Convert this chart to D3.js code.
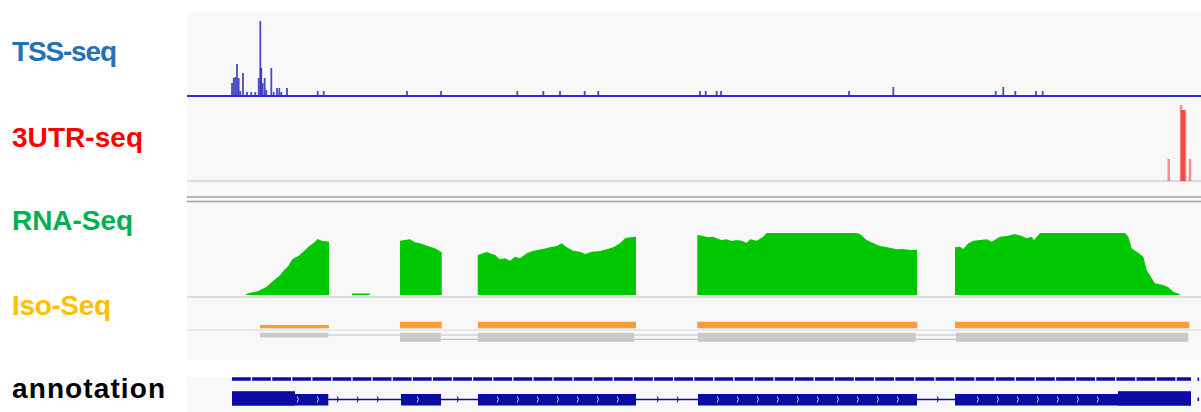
<!DOCTYPE html>
<html>
<head>
<meta charset="utf-8">
<script src="https://cdn.jsdelivr.net/npm/d3@7"></script>
<style>
  html, body { margin: 0; padding: 0; background: #ffffff; }
  svg { display: block; }
</style>
</head>
<body>
<svg id="chart" width="1201" height="412"></svg>
<script>
// ---------------- DATA ----------------
const locus = [1870, 12010];               // genomic window (bp)
const trackLabels = ["TSS-seq", "3UTR-seq", "RNA-Seq", "Iso-Seq", "annotation"];

// TSS-seq signal
const tssPos = [2320,2337,2353,2370,2387,2403,2430,2470,2513,2553,2587,2603,2613,2627,2647,2663,2713,2737,2770,2793,2813,2870,3177,3237,4070,4410,5173,5433,5600,5847,5983,7000,7057,7167,7210,8490,8933,9957,10033,10153,10360,10427];
const tssVal = [13,18,19,32,18,5,23,4,4,4,18,75,28,13,18,6,28,4,8,8,4,8,5,5,5,5,5,5,5,5,5,5,5,5,5,5,9,5,9,5,5,5];

// 3UTR-seq signal
const utrPos = [11687,11810,11820,11830,11840,11850,11900];
const utrVal = [22,76,71,71,71,71,22];

// RNA-Seq coverage, one array per covered segment: [position, depth]
const rnaSeg1 = [[2450,0],[2483,1.7],[2583,4],[2667,8.3],[2733,14.3],[2793,19],[2833,24],[2883,29],[2923,36],[2983,39],[3033,43.3],[3083,48.3],[3133,51.7],[3177,56],[3217,54.3],[3290,53.3]];
const rnaSeg2 = [[3520,1.5],[3700,1.5]];
const rnaSeg3 = [[4000,54.3],[4050,55],[4100,55.7],[4150,52.7],[4200,51.7],[4250,50],[4300,48.3],[4350,46.7],[4417,42.7]];
const rnaSeg4 = [[4777,40],[4867,43],[4950,40],[5000,35.7],[5050,36.7],[5100,34.3],[5150,38.3],[5200,36.7],[5267,41.7],[5333,44.3],[5417,45.7],[5500,47.7],[5567,49],[5617,51.7],[5667,47.7],[5733,44.3],[5800,43.3],[5850,41],[5917,43.3],[6000,44],[6067,45.7],[6133,47.7],[6200,51.7],[6250,56.7],[6300,57.7],[6360,58.3]];
const rnaSeg5 = [[6973,60],[7033,59],[7083,57.7],[7133,58.3],[7183,56],[7217,55],[7267,55.7],[7317,54],[7367,55],[7417,54.3],[7467,52.3],[7500,55.7],[7567,54.3],[7633,58.3],[7667,62],[8567,62],[8600,61],[8667,55],[8730,52],[8800,49],[8860,48],[8967,45.7],[9030,46],[9100,45],[9170,45.3]];
const rnaSeg6 = [[9550,47.7],[9600,48.3],[9633,46],[9683,51.7],[9733,54.3],[9800,55],[9867,55.7],[9917,53.3],[10000,58.3],[10067,59],[10150,61],[10217,59],[10267,56.7],[10317,58.3],[10340,55],[10400,62],[11250,62],[11283,58.3],[11317,46.7],[11367,43.3],[11433,38.3],[11467,25],[11517,16.7],[11550,11.7],[11633,10],[11683,7.7],[11733,3.3],[11800,0.7]];

// Iso-Seq reads / collapsed isoforms: [start, end]
const isoThin  = [[2600,3290]];
const isoThick = [[4000,4417],[4780,6360],[6973,9173],[9550,11893]];
const isoRowA  = [[2600,3283],[4000,4407],[4777,6343],[6977,9157],[9560,11883]];
const isoRowB  = [[4000,4407],[4777,6343],[6977,9157],[9560,11883]];

// Gene annotation
const geneSpan   = [2320, 11910];
const annotExons = [[2320,3283],[4010,4410],[4780,6360],[6980,9170],[9550,11910]];
const annotUtr   = [[2320,2950],[11180,11910]];

// ---------------- DRAW ----------------
const svg = d3.select("#chart");
const x = d3.scaleLinear().domain(locus).range([187, 1201]);
const yTss = d3.scaleLinear().domain([0, 76]).range([96, 20]);
const yUtr = d3.scaleLinear().domain([0, 76]).range([181, 105]);
const yRna = d3.scaleLinear().domain([0, 62]).range([295, 233]);

// backgrounds
svg.append("rect").attr("x", 187).attr("y", 13).attr("width", 1014).attr("height", 347).attr("fill", "#f8f8f8");
svg.append("rect").attr("x", 187).attr("y", 377).attr("width", 1014).attr("height", 35).attr("fill", "#f8f8f8");

// labels
const labelY = [61, 147, 230, 315, 398];
const labelColor = ["#2471b8", "#ff0000", "#00b050", "#ffc000", "#000000"];
const labelLen = [105, 131, 121, 99, 153];
svg.selectAll("text.lbl").data(trackLabels).join("text")
  .attr("class", "lbl")
  .attr("x", 12)
  .attr("y", (d, i) => labelY[i])
  .attr("fill", (d, i) => labelColor[i])
  .attr("textLength", (d, i) => labelLen[i])
  .style("font-family", "'Liberation Sans', Arial, sans-serif")
  .style("font-weight", "bold")
  .style("font-size", "28px")
  .text(d => d);

// separator lines
function hline(y, color, w) {
  svg.append("line").attr("x1", 187).attr("x2", 1201).attr("y1", y).attr("y2", y)
    .attr("stroke", color).attr("stroke-width", w);
}
hline(181, "#d2d2d2", 1.5);
hline(197, "#a2a2a2", 1.6);
hline(201.5, "#a2a2a2", 1.6);
hline(297, "#d2d2d2", 1.6);
hline(330, "#d6d6d6", 1.2);

// TSS-seq bars
svg.append("g").selectAll("rect").data(tssPos).join("rect")
  .attr("x", d => x(d) - 0.9)
  .attr("width", 1.8)
  .attr("y", (d, i) => yTss(tssVal[i]))
  .attr("height", (d, i) => yTss(0) - yTss(tssVal[i]))
  .attr("fill", "#1f1fb4")
  .attr("fill-opacity", 0.8);
hline(96, "#2c2cd2", 2);

// 3UTR-seq bars
svg.append("g").selectAll("rect").data(utrPos).join("rect")
  .attr("x", d => x(d) - 1.2)
  .attr("width", 2.4)
  .attr("y", (d, i) => yUtr(utrVal[i]))
  .attr("height", (d, i) => yUtr(0) - yUtr(utrVal[i]))
  .attr("fill", "#ff1a1a")
  .attr("fill-opacity", 0.5);

// RNA-Seq coverage
const area = d3.area().x(d => x(d[0])).y0(yRna(0)).y1(d => yRna(d[1]));
[rnaSeg1, rnaSeg2, rnaSeg3, rnaSeg4, rnaSeg5, rnaSeg6].forEach(seg => {
  const pts = [[seg[0][0], 0], ...seg, [seg[seg.length - 1][0], 0]];
  svg.append("path").datum(pts).attr("d", area).attr("fill", "#00c800");
});

// Iso-Seq
svg.append("g").selectAll("rect").data(isoThin).join("rect")
  .attr("x", d => x(d[0])).attr("width", d => x(d[1]) - x(d[0]))
  .attr("y", 325).attr("height", 3.3).attr("fill", "#ff9a3c");
svg.append("g").selectAll("rect").data(isoThick).join("rect")
  .attr("x", d => x(d[0])).attr("width", d => x(d[1]) - x(d[0]))
  .attr("y", 321.7).attr("height", 6.6).attr("fill", "#ff9a3c");

function isoRow(blocks, y0, h, lineY) {
  const g = svg.append("g");
  for (let i = 0; i < blocks.length - 1; i++) {
    g.append("line").attr("x1", x(blocks[i][1])).attr("x2", x(blocks[i + 1][0]))
      .attr("y1", lineY).attr("y2", lineY).attr("stroke", "#adc3d6").attr("stroke-width", 1.2);
  }
  g.selectAll("rect").data(blocks).join("rect")
    .attr("x", d => x(d[0])).attr("width", d => x(d[1]) - x(d[0]))
    .attr("y", y0).attr("height", h).attr("fill", "#c8c8c8");
}
isoRow(isoRowA, 332.8, 4.6, 335);
isoRow(isoRowB, 337.3, 4.5, 339.3);

// annotation
const blue = "#0b0ba8";
svg.append("line").attr("x1", x(geneSpan[0])).attr("x2", x(geneSpan[1]))
  .attr("y1", 379).attr("y2", 379).attr("stroke", blue).attr("stroke-width", 3.4)
  .attr("stroke-dasharray", "18.8,1.3");
svg.append("line").attr("x1", x(geneSpan[0])).attr("x2", x(geneSpan[1]))
  .attr("y1", 399.4).attr("y2", 399.4).attr("stroke", blue).attr("stroke-width", 1.5);
svg.append("g").selectAll("rect").data(annotExons).join("rect")
  .attr("x", d => x(d[0])).attr("width", d => x(d[1]) - x(d[0]))
  .attr("y", 394).attr("height", 11.5).attr("fill", blue);
svg.append("g").selectAll("rect").data(annotUtr).join("rect")
  .attr("x", d => x(d[0])).attr("width", d => x(d[1]) - x(d[0]))
  .attr("y", 391.2).attr("height", 14.3).attr("fill", blue);
// strand chevrons
const chevX = d3.range(x(geneSpan[0]) + 6, x(geneSpan[1]) - 4, 20);
const inBlock = (px, blocks, pad) => blocks.some(b => px > x(b[0]) - pad && px < x(b[1]) + pad);
chevX.forEach(px => {
  if (inBlock(px, annotUtr, 3)) return;
  const onExon = inBlock(px, annotExons, 0);
  const nearEdge = annotExons.some(b => Math.abs(px - x(b[0])) < 4 || Math.abs(px - x(b[1])) < 4);
  if (nearEdge) return;
  svg.append("path")
    .attr("d", `M${px - 0.8},${396.4} Q${px + 1.6},${399.4} ${px - 0.8},${402.4}`)
    .attr("fill", "none")
    .attr("stroke", onExon ? "#d8d8f0" : blue)
    .attr("stroke-width", 1);
});
// right-edge markers
svg.append("rect").attr("x", x(locus[1]) - 3.5).attr("y", 377.5).attr("width", 1.6).attr("height", 3.5).attr("fill", blue);
svg.append("rect").attr("x", x(locus[1]) - 3.5).attr("y", 397.5).attr("width", 1.6).attr("height", 3.5).attr("fill", blue);
</script>
</body>
</html>
